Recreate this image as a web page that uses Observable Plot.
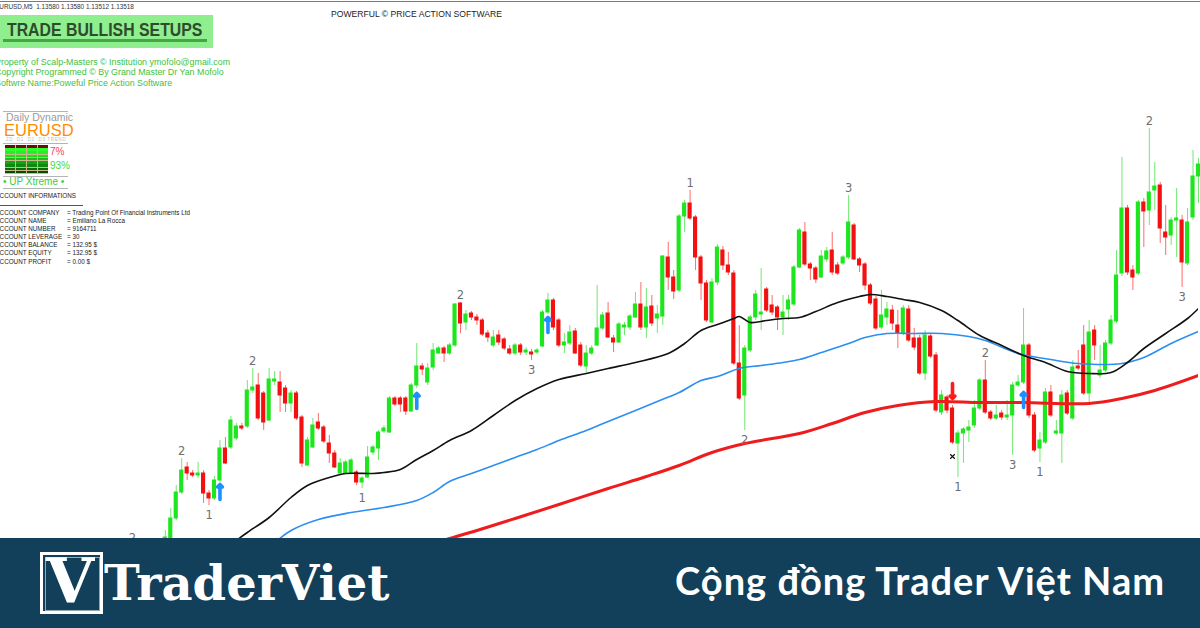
<!DOCTYPE html>
<html>
<head>
<meta charset="utf-8">
<script src="https://cdn.jsdelivr.net/npm/d3@7"></script>
<script src="https://cdn.jsdelivr.net/npm/@observablehq/plot@0.6"></script>
<style>
  html, body { margin:0; padding:0; background:#fff; }
  #wrap { position:relative; width:1200px; height:628px; overflow:hidden; background:#fff; font-family:"Liberation Sans", Arial, sans-serif; }
  #chart { position:absolute; left:0; top:0; width:1200px; height:538px; }
  #chart svg { overflow:hidden; display:block; }
  .t { position:absolute; white-space:nowrap; line-height:1; }
  .hl { position:absolute; height:1px; background:#b4b4b4; }
  .acc { position:absolute; white-space:nowrap; line-height:1; font-size:6.3px; color:#1a1a1a; }
  #banner { position:absolute; left:0; top:538px; width:1200px; height:90px; background:#123f5a; z-index:5; }
</style>
</head>
<body>
<div id="wrap">
  <div id="chart"></div>

  <div style="position:absolute;left:0;top:1px;width:1200px;height:1px;background:#7a7a7a"></div>
  <div class="t" style="left:-5px;top:3.5px;font-size:6.4px;color:#333">EURUSD,M5&nbsp; 1.13580 1.13580 1.13512 1.13518</div>
  <div class="t" style="left:331px;top:9.7px;font-size:8.6px;color:#222">POWERFUL © PRICE ACTION SOFTWARE</div>

  <div style="position:absolute;left:0;top:15px;width:213px;height:33px;background:#8fef8f"></div>
  <div class="t" style="left:7px;top:21px;font-size:18px;font-weight:bold;color:#2e4b2e;transform:scaleX(0.88);transform-origin:0 0">TRADE BULLISH SETUPS</div>
  <div style="position:absolute;left:3px;top:39px;width:204px;height:3px;background:#43a843"></div>

  <div class="t" style="left:-5px;top:57.5px;font-size:8.9px;color:#3ec23e">Property of Scalp-Masters © Institution ymofolo@gmail.com</div>
  <div class="t" style="left:-5px;top:68px;font-size:8.9px;color:#3ec23e">Copyright Programmed © By Grand Master Dr Yan Mofolo</div>
  <div class="t" style="left:-5px;top:78.5px;font-size:8.9px;color:#3ec23e">Softwre Name:Poweful Price Action Software</div>

  <div class="hl" style="left:3px;top:111px;width:65px"></div>
  <div class="t" style="left:6px;top:111.8px;font-size:10.5px;color:#9a9a9a">Daily Dynamic</div>
  <div class="t" style="left:4px;top:121.5px;font-size:16.5px;color:#ff8c00">EURUSD</div>
  <div class="t" style="left:6px;top:137.5px;font-size:4.6px;color:#bdbdbd;letter-spacing:0.6px">2D&nbsp; D1&nbsp; D2&nbsp; D3 TREND</div>
  <div class="hl" style="left:3px;top:143px;width:65px"></div>
  <div id="bars" style="position:absolute;left:5px;top:145px;width:43px;height:29px;background:#c9b98a"></div>
  <div class="t" style="left:50px;top:146.5px;font-size:10px;color:#f04a4a">7%</div>
  <div class="t" style="left:50px;top:160.5px;font-size:10px;color:#3ddc3d">93%</div>
  <div class="hl" style="left:3px;top:176px;width:65px"></div>
  <div class="t" style="left:3px;top:176.5px;font-size:10px;color:#3ccc3c">• UP Xtreme •</div>
  <div class="hl" style="left:3px;top:188px;width:65px"></div>

  <div class="acc" style="left:-4.6px;top:193.3px">ACCOUNT INFORMATIONS</div>
  <div style="position:absolute;left:0;top:205px;width:83px;height:1px;background:#555"></div>
  <div id="acct"></div>

  <div id="banner">
    <div style="position:absolute;left:40px;top:14px;width:57px;height:56px;border:3px solid #fff;"></div>
    <div style="position:absolute;left:45px;top:19px;width:53px;height:52px;border:1px solid rgba(255,255,255,0.55);"></div>
    <div class="t" style="left:46px;top:12px;font-family:'DejaVu Serif';font-weight:bold;font-size:62px;color:#fff">V</div>
    <div class="t" style="left:104px;top:21.4px;font-family:'DejaVu Serif';font-weight:bold;font-size:48px;color:#fff">TraderViet</div>
    <div class="t" style="right:35px;top:23px;font-family:Lato;font-weight:bold;font-size:38px;letter-spacing:1px;color:#fff">Cộng đồng Trader Việt Nam</div>
  </div>
</div>

<script>
// ---- Candles (price offsets in points below the 1.13682 reference) ----
const openPts = [550,565,585,572,562,552,548,538,518,492,
 467,473,475,473,493,498,480,448,447,438,
 426,426,390,385,393,420,381,382,388,403,
 393,417,465,447,422,427,443,453,473,473,
 473,472,482,477,452,448,431,432,398,398,
 398,411,385,366,382,367,353,348,353,345,
 303,322,313,317,320,333,345,335,339,349,
 353,345,352,352,352,346,312,300,320,345,
 343,331,345,366,353,345,328,313,338,342,
 327,327,317,304,327,306,318,316,257,277,
 290,216,203,217,257,283,322,282,250,265,
 273,363,395,350,317,314,289,305,307,317,
 309,304,267,232,264,268,277,259,250,265,
 263,257,225,259,264,285,299,327,317,310,
 325,333,309,338,338,373,336,355,412,397,
 408,443,433,430,425,408,380,412,418,413,
 417,415,385,382,345,415,448,442,392,433,
 433,393,418,366,345,393,330,375,370,343,
 321,273,208,270,273,202,210,190,185,232,
 235,220,220,263,217,176];
const highPts = [545,560,566,556,548,538,530,508,485,458,
 462,470,462,470,490,476,440,437,416,423,
 423,380,368,373,391,368,371,371,385,390,
 391,415,437,418,413,425,435,450,458,460,
 458,470,476,446,445,430,425,396,396,396,
 396,383,343,363,363,343,346,346,343,303,
 302,310,311,314,318,330,330,330,337,345,
 343,343,347,349,348,310,293,298,318,333,
 325,328,342,345,345,285,312,302,335,322,
 322,314,292,282,288,295,305,255,242,270,
 214,200,190,215,255,280,278,244,246,252,
 270,325,345,315,290,268,287,295,305,295,
 295,265,228,222,262,266,250,247,232,262,
 255,195,223,257,262,283,296,290,302,305,
 310,305,305,328,335,330,333,352,390,395,
 405,430,427,420,400,378,360,410,405,410,
 400,382,375,308,343,412,432,388,385,420,
 390,390,360,350,325,320,325,345,340,315,
 250,157,205,265,200,198,128,162,182,205,
 217,188,215,208,150,158];
const lowPts = [570,584,590,575,566,555,552,540,520,494,
 480,477,478,503,505,500,482,464,449,440,
 430,428,393,420,430,421,385,412,412,412,
 420,467,466,448,430,443,463,468,474,474,
 474,485,488,478,455,460,433,433,406,412,
 415,412,388,375,385,370,354,362,355,347,
 333,330,320,325,336,342,347,345,350,355,
 355,355,355,360,354,347,314,330,347,353,
 345,354,367,372,355,346,330,338,352,343,
 335,330,318,330,338,326,333,325,290,299,
 292,232,220,270,300,322,323,285,270,275,
 365,400,430,352,320,330,312,315,330,335,
 320,306,268,266,280,283,278,262,275,275,
 265,259,260,272,290,305,330,329,325,330,
 348,335,342,350,375,380,358,412,415,413,
 444,477,463,442,428,410,414,420,420,420,
 420,455,387,384,418,452,462,444,417,435,
 463,415,420,370,395,402,360,378,372,345,
 323,276,275,290,275,247,225,210,243,255,
 245,257,287,265,220,203];
const closePts = [565,580,570,560,552,540,537,518,492,470,
 473,475,473,493,498,480,448,463,420,426,
 428,390,387,418,422,379,379,395,403,393,
 418,463,440,425,428,441,453,467,463,462,
 460,482,478,457,447,432,428,398,404,404,
 411,385,366,369,368,350,348,353,345,304,
 323,314,317,320,334,337,337,342,348,353,
 345,352,350,354,350,312,300,327,345,342,
 332,353,365,353,348,328,315,337,342,324,
 325,316,304,327,307,323,314,256,277,291,
 216,203,218,257,283,320,282,247,265,272,
 363,398,348,317,294,312,310,312,317,312,
 300,267,230,264,268,279,256,251,272,273,
 257,222,259,265,285,303,328,315,309,323,
 333,308,340,347,373,335,356,410,395,410,
 442,433,429,427,408,380,412,418,415,417,
 415,385,382,345,415,450,440,392,415,431,
 395,413,367,368,393,332,345,370,343,320,
 275,208,272,277,202,211,192,186,228,237,
 220,218,262,222,176,164];

// ---- Moving averages (bar index, points) ----
const maBlackIdx = [16,19,21,25,29,32,36,39,44,46,49,52,55,58,62,66,70,74,78,83,87,92,98,101,104,107,110,111,113,116,119,122,125,129,133,135,138,141,144,148,151,155,159,163,167,171,175,179,182,185,189,193,195];
const maBlackPts = [553,540,532,517,497,485,477,473,473,472,469,459,450,440,430,415,400,388,379,373,368,362,353,343,330,324,318,316,322,320,318,317,311,302,296,294,296,299,302,310,320,335,345,355,362,371,373,372,362,348,333,318,308];
const maBlueIdx = [24,26,29,34,40,46,52,55,58,62,66,70,74,78,83,87,92,96,100,104,107,111,115,119,122,126,131,134,138,143,148,153,156,162,168,173,181,185,190,195];
const maBluePts = [550,542,530,519,512,507,500,492,481,473,465,457,449,440,430,421,410,401,392,380,376,368,365,362,359,352,343,337,333,333,333,336,340,353,359,363,363,357,343,331];
const maRedIdx = [55,58,63,70,78,87,94,100,106,112,122,128,134,140,147,155,163,175,181,187,195];
const maRedPts = [543,538,530,518,504,488,476,465,452,443,433,423,412,405,401,402,402,403,398,390,375];

// ---- Swing labels ----
const swingIdx  = [0,9,22,60,102,131,156,186, 14,42,73,112,151,161,166,192];
const swingText = ["2","2","2","2","1","3","2","2", "1","1","3","2","1","3","1","3"];
const swingSide = ["high","high","high","high","high","high","high","high","low","low","low","low","low","low","low","low"];

// ---- Signals ----
const buyIdx = [16, 52, 76, 163];
const buyPts = [484, 393, 317, 392];
const sellIdx = [150];
const sellPts = [398];
const stopIdx = [150];
const stopPts = [456];

// ---- Account panel ----
const accLabels = ["ACCOUNT COMPANY","ACCOUNT NAME","ACCOUNT NUMBER","ACCOUNT LEVERAGE","ACCOUNT BALANCE","ACCOUNT EQUITY","ACCOUNT PROFIT"];
const accValues = ["= Trading Point Of Financial Instruments Ltd","= Emiliano La Rocca","= 9164711","= 30","= 132.95 $","= 132.95 $","= 0.00 $"];

const REF = 1.13682, POINT = 0.00001;
const toPrice = p => +(REF - p * POINT).toFixed(5);

const candles = openPts.map((_, i) => ({
  i, open: toPrice(openPts[i]), high: toPrice(highPts[i]), low: toPrice(lowPts[i]), close: toPrice(closePts[i])
}));
const bulls = candles.filter(d => d.close >= d.open);
const bears = candles.filter(d => d.close < d.open);
const series = (idx, pts) => idx.map((i, k) => ({ i, v: toPrice(pts[k]) }));
const swings = swingIdx.map((i, k) => ({ i, t: swingText[k], side: swingSide[k],
  v: swingSide[k] === "high" ? candles[i].high : candles[i].low }));

const UP = "#1ee61e", DOWN = "#f21010", UPW = "#6fe86f", DOWNW = "#ff6b6b";
const half = 0.38;

const chart = Plot.plot({
  width: 1200, height: 538,
  marginLeft: 132, marginRight: 2, marginTop: 0, marginBottom: 0,
  x: { domain: [0, 195], axis: null },
  y: { domain: [toPrice(538), toPrice(0)], axis: null },
  style: { background: "transparent", overflow: "hidden" },
  marks: [
    Plot.ruleX(bulls, { x: "i", y1: "low", y2: "high", stroke: UPW, strokeWidth: 1 }),
    Plot.ruleX(bears, { x: "i", y1: "low", y2: "high", stroke: DOWNW, strokeWidth: 1 }),
    Plot.rect(bulls, { x1: d => d.i - half, x2: d => d.i + half, y1: "open", y2: "close", fill: UP, insetTop: -0.5, insetBottom: -0.5 }),
    Plot.rect(bears, { x1: d => d.i - half, x2: d => d.i + half, y1: "open", y2: "close", fill: DOWN, insetTop: -0.5, insetBottom: -0.5 }),
    Plot.line(series(maRedIdx, maRedPts), { x: "i", y: "v", stroke: "#ee1c1c", strokeWidth: 3, curve: "catmull-rom", clip: true }),
    Plot.line(series(maBlueIdx, maBluePts), { x: "i", y: "v", stroke: "#2b8ef2", strokeWidth: 1.6, curve: "catmull-rom", clip: true }),
    Plot.line(series(maBlackIdx, maBlackPts), { x: "i", y: "v", stroke: "#111", strokeWidth: 1.6, curve: "catmull-rom", clip: true }),
    Plot.vector(series(buyIdx, buyPts), { x: "i", y: "v", length: 15, r: 2.8, rotate: 0, anchor: "end", stroke: "#1e8fff", strokeWidth: 3.6 }),
    Plot.vector(series(sellIdx, sellPts), { x: "i", y: "v", length: 15, r: 2.8, rotate: 180, anchor: "end", stroke: "#ff1a1a", strokeWidth: 3.6 }),
    Plot.dot(series(stopIdx, stopPts), { x: "i", y: "v", symbol: "times", r: 2.2, stroke: "#111", strokeWidth: 1.2 }),
    Plot.text(swings.filter(d => d.side === "high"), { x: "i", y: "v", text: "t", dy: -7, fill: "#6e6e6e", fontSize: 11.5, fontFamily: "DejaVu Sans" }),
    Plot.text(swings.filter(d => d.side === "low"), { x: "i", y: "v", text: "t", dy: 10, fill: "#6e6e6e", fontSize: 11.5, fontFamily: "DejaVu Sans" })
  ]
});
document.getElementById("chart").appendChild(chart);

// account rows
const acct = document.getElementById("acct");
const rowY = [212.7, 220.7, 228.7, 236.7, 245, 253.3, 261.7];
accLabels.forEach((lab, k) => {
  const a = document.createElement("div");
  a.className = "acc"; a.style.left = "-4.6px"; a.style.top = (rowY[k] - 3.2) + "px"; a.textContent = lab;
  const b = document.createElement("div");
  b.className = "acc"; b.style.left = "67px"; b.style.top = (rowY[k] - 3.2) + "px"; b.textContent = accValues[k];
  acct.appendChild(a); acct.appendChild(b);
});

// strength bars widget
const rowColors = ["#6e0a0a","#2bff2b","#25f025","#1fdc1f","#18c018","#12a412","#0e880e","#0a6a0a","#064a06"];
const bars = document.getElementById("bars");
for (let c = 0; c < 4; c++) {
  for (let r = 0; r < rowColors.length; r++) {
    const d = document.createElement("div");
    d.style.position = "absolute";
    d.style.left = (c * 10.9) + "px";
    d.style.width = "10px";
    d.style.top = (r * 3.22) + "px";
    d.style.height = "2.6px";
    d.style.background = rowColors[r];
    bars.appendChild(d);
  }
}
</script>
</body>
</html>
